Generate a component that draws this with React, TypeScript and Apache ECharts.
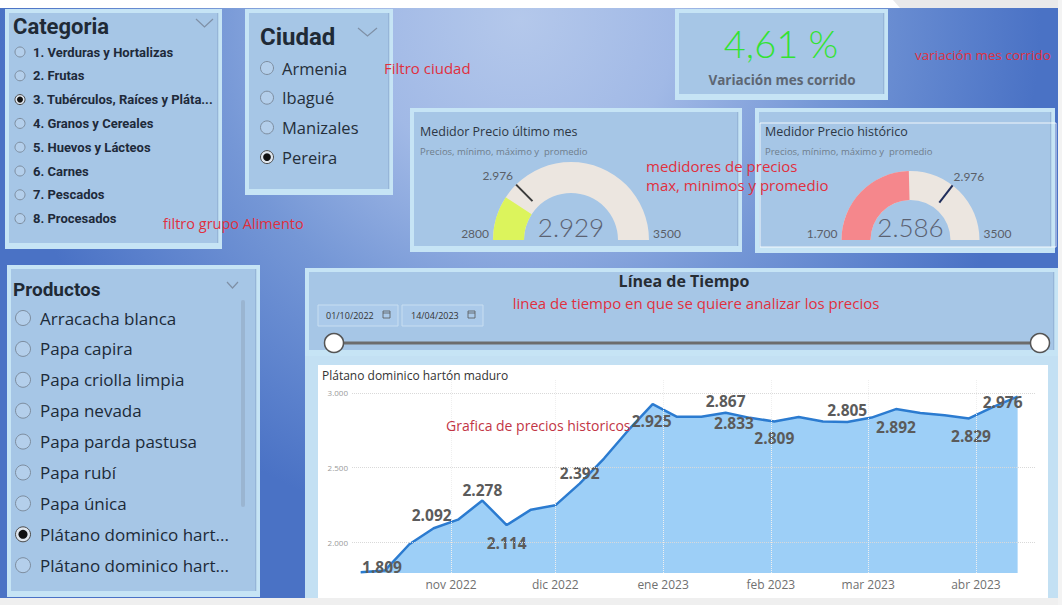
import React, { useEffect, useRef } from "react";
import * as echarts from "echarts";

const categorias = [
  "1. Verduras y Hortalizas",
  "2. Frutas",
  "3. Tubérculos, Raíces y Pláta...",
  "4. Granos y Cereales",
  "5. Huevos y Lácteos",
  "6. Carnes",
  "7. Pescados",
  "8. Procesados",
];
const categoriaSeleccionada = 2;

const ciudades = ["Armenia", "Ibagué", "Manizales", "Pereira"];
const ciudadSeleccionada = 3;

const productos = [
  "Arracacha blanca",
  "Papa capira",
  "Papa criolla limpia",
  "Papa nevada",
  "Papa parda pastusa",
  "Papa rubí",
  "Papa única",
  "Plátano dominico hart...",
  "Plátano dominico hart...",
];
const productoSeleccionado = 7;

const variacionMes = "4,61 %";
const fechaInicio = "01/10/2022";
const fechaFin = "14/04/2023";

const medidorMesRango = [2800, 3500];
const medidorMesValor = 2929;
const medidorMesObjetivo = 2976;
const medidorMesEtiquetas = ["2800", "3500"];

const medidorHistRango = [1700, 3500];
const medidorHistValor = 2586;
const medidorHistObjetivo = 2976;
const medidorHistEtiquetas = ["1.700", "3500"];

const producto = "Plátano dominico hartón maduro";
const fechas = [
  "2022-10-06", "2022-10-13", "2022-10-20", "2022-10-27", "2022-11-03", "2022-11-10", "2022-11-17",
  "2022-11-24", "2022-12-01", "2022-12-08", "2022-12-15", "2022-12-22", "2022-12-29", "2023-01-05",
  "2023-01-12", "2023-01-19", "2023-01-26", "2023-02-02", "2023-02-09", "2023-02-16", "2023-02-23",
  "2023-03-02", "2023-03-09", "2023-03-16", "2023-03-23", "2023-03-30", "2023-04-06", "2023-04-13",
];
const precios = [
  1797, 1809, 1985, 2092, 2150, 2278, 2114,
  2217, 2246, 2392, 2560, 2750, 2925, 2840,
  2840, 2867, 2833, 2809, 2839, 2808, 2805,
  2835, 2892, 2866, 2850, 2829, 2906, 2976,
];
const mesesTicks = ["2022-11-01", "2022-12-01", "2023-01-01", "2023-02-01", "2023-03-01", "2023-04-01"];
const yTicks = [2000, 2500, 3000];
const mesesNombres = ["ene", "feb", "mar", "abr", "may", "jun", "jul", "ago", "sep", "oct", "nov", "dic"];

// label placement relative to its point (layout only)
const etiquetas: { i: number; dx: number; dy: number }[] = [
  { i: 1, dx: -3, dy: -3 },
  { i: 3, dx: -2, dy: -13 },
  { i: 5, dx: 0, dy: -11 },
  { i: 6, dx: 0, dy: 18 },
  { i: 9, dx: 0, dy: -11 },
  { i: 12, dx: -1, dy: 17 },
  { i: 15, dx: 0, dy: -12 },
  { i: 16, dx: -16, dy: 5 },
  { i: 17, dx: 0, dy: 17 },
  { i: 20, dx: 0, dy: -12 },
  { i: 22, dx: 0, dy: 18 },
  { i: 25, dx: 2, dy: 18 },
  { i: 27, dx: -15, dy: 5 },
];

const fmt = (n: number) => Math.round(n).toString().replace(/\B(?=(\d{3})+(?!\d))/g, ".");
const ts = (d: string) => {
  const [y, m, dd] = d.split("-").map(Number);
  return Date.UTC(y, m - 1, dd);
};
const mesLabel = (v: number) => {
  const d = new Date(v);
  return mesesNombres[d.getUTCMonth()] + " " + d.getUTCFullYear();
};
const DAY = 86400000;

const RED = "#e0303e";
const PANEL_IN = "#a6c6e6";
const PANEL_OUT = "#c6e4f5";

function txt(text: string, x: number, y: number, o: any = {}): any {
  return {
    type: "text",
    x,
    y,
    z: o.z ?? 1,
    z2: 10,
    silent: true,
    style: {
      text,
      fill: o.fill ?? "#222",
      fontSize: o.size ?? 12,
      fontFamily: o.family ?? "Open Sans",
      fontWeight: o.weight ?? "normal",
      align: o.align ?? "left",
      verticalAlign: "middle",
    },
  };
}

function panel(x: number, y: number, w: number, h: number, inner = PANEL_IN): any[] {
  return [
    { type: "rect", z: 1, z2: 0, silent: true, shape: { x, y, width: w, height: h }, style: { fill: PANEL_OUT } },
    { type: "rect", z: 1, z2: 1, silent: true, shape: { x: x + 4, y: y + 4, width: w - 8, height: h - 10 }, style: { fill: inner } },
    { type: "rect", z: 1, z2: 2, silent: true, shape: { x: x + w - 5, y: y + 4, width: 1.5, height: h - 10 }, style: { fill: "rgba(120,150,190,0.35)" } },
  ];
}

function chevron(x: number, y: number, w: number, h: number): any {
  return {
    type: "polyline",
    z: 1,
    z2: 10,
    silent: true,
    shape: { points: [[x, y], [x + w / 2, y + h], [x + w, y]] },
    style: { stroke: "#7f90a6", lineWidth: 1.2, fill: null },
  };
}

function radio(cx: number, cy: number, r: number, sel: boolean): any[] {
  const out: any[] = [
    { type: "circle", z: 1, z2: 10, silent: true, shape: { cx, cy, r }, style: { fill: sel ? "#dfe6ee" : "#b4cfeb", stroke: sel ? "#4a4a4a" : "#7d8d9f", lineWidth: 1 } },
  ];
  if (sel) out.push({ type: "circle", z: 1, z2: 11, silent: true, shape: { cx, cy, r: r * 0.6 }, style: { fill: "#111" } });
  return out;
}

function medidor(cx: number, cy: number, r: number, w: number, rango: number[], valor: number, objetivo: number, color: string, objColor: string, marcas: string[]) {
  const base: any = {
    type: "gauge",
    center: [cx, cy],
    radius: r,
    startAngle: 180,
    endAngle: 0,
    min: rango[0],
    max: rango[1],
    splitNumber: 1,
    axisTick: { show: false },
    splitLine: { show: false },
    axisLabel: { show: false },
    anchor: { show: false },
    title: { show: false },
  };
  const len = w * 0.75;
  const series = [
    {
      ...base,
      axisLine: { show: true, roundCap: false, lineStyle: { width: w, color: [[1, "#ece6e0"]] } },
      progress: { show: true, width: w, roundCap: false, itemStyle: { color } },
      pointer: { show: false },
      detail: {
        show: true,
        valueAnimation: false,
        offsetCenter: [0, -13],
        formatter: (v: number) => fmt(v),
        fontFamily: "Lato",
        fontWeight: 300,
        fontSize: 26,
        color: "#5b6272",
      },
      data: [{ value: valor }],
    },
    {
      ...base,
      axisLine: { show: false },
      progress: { show: false },
      pointer: { show: true, icon: "rect", width: 2, length: len, offsetCenter: [0, -(r - len)], keepAspect: false, itemStyle: { color: objColor } },
      detail: { show: false },
      data: [{ value: objetivo }],
    },
  ];
  const frac = (objetivo - rango[0]) / (rango[1] - rango[0]);
  const ang = Math.PI * (1 - frac);
  const tx = cx + r * Math.cos(ang);
  const ty = cy - r * Math.sin(ang);
  const lab = { fill: "#5a5f68", size: 12, family: "Lato" };
  const graphics = [
    txt(marcas[0], cx - r - 4, cy - 7, { ...lab, align: "right" }),
    txt(marcas[1], cx + r + 4, cy - 7, { ...lab, align: "left" }),
    txt(fmt(objetivo), tx < cx ? tx - 3 : tx + 1, ty - 9, { ...lab, align: tx < cx ? "right" : "left" }),
  ];
  return { series, graphics };
}

function calendar(x: number, y: number): any[] {
  return [
    { type: "rect", z: 1, z2: 10, silent: true, shape: { x, y, width: 7, height: 7 }, style: { fill: null, stroke: "#555", lineWidth: 0.8 } },
    { type: "line", z: 1, z2: 10, silent: true, shape: { x1: x, y1: y + 2, x2: x + 7, y2: y + 2 }, style: { stroke: "#555", lineWidth: 0.8 } },
  ];
}

function buildOption(): any {
  const g: any[] = [];
  g.push({ type: "rect", z: 0, silent: true, shape: { x: 0, y: 0, width: 1062, height: 605 }, style: { fill: "#ffffff" } });
  g.push({
    type: "rect", z: 0, z2: 1, silent: true, shape: { x: 0, y: 8, width: 1062, height: 592 },
    style: {
      fill: new echarts.graphic.RadialGradient(520, 20, 520, [
        { offset: 0, color: "#b4c8eb" },
        { offset: 0.3, color: "#a1b9e6" },
        { offset: 0.6, color: "#7597d6" },
        { offset: 0.85, color: "#5a80cc" },
        { offset: 1, color: "#4a72c5" },
      ], true),
    },
  });
  g.push({ type: "polygon", z: 0, z2: 2, silent: true, shape: { points: [[893, 0], [1062, 0], [1062, 8], [900, 8]] }, style: { fill: "#e9e9ea" } });

  // Categoria
  g.push(...panel(5, 9, 217, 240));
  g.push(txt("Categoria", 13, 26, { size: 22, weight: "bold", family: "Roboto", fill: "#1f2a36" }));
  g.push(chevron(196, 19, 17, 8));
  categorias.forEach((c, i) => {
    const cy = 52 + i * 23.8;
    g.push(...radio(20, cy, 5, i === categoriaSeleccionada));
    g.push(txt(c, 33, cy, { size: 13, weight: "bold", family: "Roboto", fill: "#1e2a3a" }));
  });

  // Ciudad
  g.push(...panel(245, 9, 148, 186));
  g.push(txt("Ciudad", 260, 37, { size: 24, weight: "bold", family: "Roboto", fill: "#1f2a36" }));
  g.push(chevron(358, 28, 19, 8));
  ciudades.forEach((c, i) => {
    const cy = 68 + i * 29.7;
    g.push(...radio(267, cy, 6.5, i === ciudadSeleccionada));
    g.push(txt(c, 282, cy, { size: 16.5, fill: "#252f3a" }));
  });

  // KPI
  g.push(...panel(675, 9, 213, 91));
  g.push(txt(variacionMes, 781, 43, { size: 38, weight: 300, family: "Lato", fill: "#33e233", align: "center" }));
  g.push(txt("Variación mes corrido", 782, 80, { size: 13.5, weight: "bold", fill: "#5d6673", align: "center" }));

  // gauges panels
  g.push(...panel(410, 108, 332, 144));
  g.push(txt("Medidor Precio último mes", 420, 131, { size: 12.5, fill: "#2d3744" }));
  g.push(txt("Precios, mínimo, máximo y  promedio", 420, 151, { size: 9.5, fill: "#6e7d8c" }));
  g.push(...panel(755, 108, 300, 145));
  g.push({ type: "rect", z: 1, z2: 5, silent: true, shape: { x: 760, y: 123, width: 296, height: 124 }, style: { fill: null, stroke: "rgba(255,255,255,0.85)", lineWidth: 1 } });
  g.push(txt("Medidor Precio histórico", 765, 131, { size: 12.5, fill: "#2d3744" }));
  g.push(txt("Precios, mínimo, máximo y  promedio", 765, 151, { size: 9.5, fill: "#6e7d8c" }));

  const m1 = medidor(571, 240, 78, 31, medidorMesRango, medidorMesValor, medidorMesObjetivo, "#dcf45c", "#3a3a3a", medidorMesEtiquetas);
  const m2 = medidor(910.5, 240, 69, 29, medidorHistRango, medidorHistValor, medidorHistObjetivo, "#f5878c", "#1f2d5a", medidorHistEtiquetas);
  g.push(...m1.graphics, ...m2.graphics);

  // Productos
  g.push(...panel(7, 265, 253, 332));
  g.push(txt("Productos", 13, 289, { size: 19, weight: "bold", family: "Roboto", fill: "#1f2a36" }));
  g.push(chevron(227, 282, 11, 6));
  g.push({ type: "rect", z: 1, z2: 5, silent: true, shape: { x: 241, y: 300, width: 4, height: 207, r: 2 }, style: { fill: "rgba(140,160,185,0.45)" } });
  productos.forEach((p, i) => {
    const cy = 318 + i * 30.9;
    g.push(...radio(23, cy, 7.5, i === productoSeleccionado));
    g.push(txt(p, 40, cy, { size: 17, fill: "#1c2a38" }));
  });

  // timeline
  g.push(...panel(305, 268, 753, 88));
  g.push(txt("Línea de Tiempo", 684, 281, { size: 16, weight: "bold", fill: "#262c33", align: "center" }));
  g.push({ type: "rect", z: 1, z2: 5, silent: true, shape: { x: 318, y: 305, width: 80, height: 21 }, style: { fill: "#abcaea", stroke: "#c8def1", lineWidth: 1 } });
  g.push({ type: "rect", z: 1, z2: 5, silent: true, shape: { x: 402, y: 305, width: 81, height: 21 }, style: { fill: "#abcaea", stroke: "#c8def1", lineWidth: 1 } });
  g.push(txt(fechaInicio, 326, 315.5, { size: 9, fill: "#333" }));
  g.push(txt(fechaFin, 411, 315.5, { size: 9, fill: "#333" }));
  g.push(...calendar(383, 311), ...calendar(468, 311));
  g.push({ type: "line", z: 1, z2: 6, silent: true, shape: { x1: 334, y1: 343, x2: 1040, y2: 343 }, style: { stroke: "#6c6c6c", lineWidth: 3 } });
  g.push({ type: "circle", z: 1, z2: 7, silent: true, shape: { cx: 334, cy: 343, r: 9.5 }, style: { fill: "#fff", stroke: "#555", lineWidth: 1.5 } });
  g.push({ type: "circle", z: 1, z2: 7, silent: true, shape: { cx: 1040, cy: 343, r: 9.5 }, style: { fill: "#fff", stroke: "#555", lineWidth: 1.5 } });

  // line chart frame
  g.push({ type: "rect", z: 1, z2: 0, silent: true, shape: { x: 305, y: 356, width: 753, height: 244 }, style: { fill: "#c3e0f3" } });
  g.push({ type: "rect", z: 1, z2: 1, silent: true, shape: { x: 318, y: 365, width: 730, height: 233 }, style: { fill: "#ffffff" } });
  g.push(txt(producto, 322, 375, { size: 12, fill: "#333" }));

  // annotations
  const ann = { fill: RED, size: 15, z: 10 };
  g.push(txt("filtro grupo Alimento", 163, 223, { ...ann, size: 14.5 }));
  g.push(txt("Filtro ciudad", 384, 68, ann));
  g.push(txt("variación mes corrido", 915, 55, { ...ann, size: 13.5 }));
  g.push(txt("medidores de precios", 646, 166, ann));
  g.push(txt("max, minimos y promedio", 646, 185, ann));
  g.push(txt("linea de tiempo en que se quiere analizar los precios", 696, 303, { ...ann, size: 15, align: "center" }));
  g.push(txt("Grafica de precios historicos", 446, 425, { ...ann, size: 14, fill: "#c23545" }));

  g.push({ type: "rect", z: 20, silent: true, shape: { x: 0, y: 598, width: 1062, height: 7 }, style: { fill: "#efefef" } });
  g.push({ type: "rect", z: 20, silent: true, shape: { x: 1058, y: 0, width: 4, height: 605 }, style: { fill: "#f3f3f3" } });

  const labelMap: Record<number, { dx: number; dy: number }> = {};
  etiquetas.forEach((e) => (labelMap[e.i] = e));

  const lineData = fechas.map((d, i) => {
    const item: any = { value: [ts(d), precios[i]] };
    const l = labelMap[i];
    if (l) item.label = { show: true, position: [l.dx, l.dy], align: "center", verticalAlign: "middle" };
    return item;
  });

  const xMin = ts(fechas[0]) - 2.5 * DAY;
  const xMax = ts(fechas[fechas.length - 1]) + 5 * DAY;

  return {
    animation: false,
    graphic: { elements: g },
    grid: { left: 352, right: 27, top: 380, bottom: 32, containLabel: false },
    xAxis: {
      type: "value",
      min: xMin,
      max: xMax,
      axisLine: { show: false },
      axisTick: { show: false },
      splitLine: { show: false },
      axisLabel: { show: false },
    },
    yAxis: {
      type: "value",
      min: 1792,
      max: 3087,
      axisLine: { show: false },
      axisTick: { show: false },
      splitLine: { show: false },
      axisLabel: { show: false },
    },
    series: [
      {
        type: "line",
        data: lineData,
        symbol: "circle",
        symbolSize: 0.01,
        showSymbol: true,
        itemStyle: { color: "#2b7bd0" },
        lineStyle: { color: "#2b7bd0", width: 2.5 },
        areaStyle: { color: "#9dcff7", opacity: 1 },
        label: {
          show: false,
          fontFamily: "Open Sans",
          fontWeight: "bold",
          fontSize: 15.5,
          color: "#5b5b5b",
          formatter: (p: any) => fmt(p.value[1]),
        },
        markLine: {
          silent: true,
          symbol: ["none", "none"],
          animation: false,
          lineStyle: { type: "dotted", color: "#d9d9d9", width: 1 },
          label: { show: true, position: "start", distance: 4, fontSize: 8, color: "#9a9a9a", fontFamily: "Open Sans", formatter: (p: any) => fmt(p.value) },
          data: [
            ...yTicks.map((v) => ({ yAxis: v })),
            ...mesesTicks.map((d) => ({
              xAxis: ts(d),
              lineStyle: { color: "#efefef" },
              label: { show: true, position: "start", distance: 5, fontSize: 12, color: "#707070", formatter: (p: any) => mesLabel(p.value) },
            })),
          ],
        },
      },
      ...m1.series,
      ...m2.series,
    ],
  };
}

export default function App() {
  const ref = useRef<HTMLDivElement>(null);
  useEffect(() => {
    document.body.style.margin = "0";
    const chart = echarts.init(ref.current!, null, { renderer: "svg" });
    chart.setOption(buildOption());
    return () => chart.dispose();
  }, []);
  return <div ref={ref} style={{ position: "absolute", left: 0, top: 0, width: 1062, height: 605 }} />;
}
